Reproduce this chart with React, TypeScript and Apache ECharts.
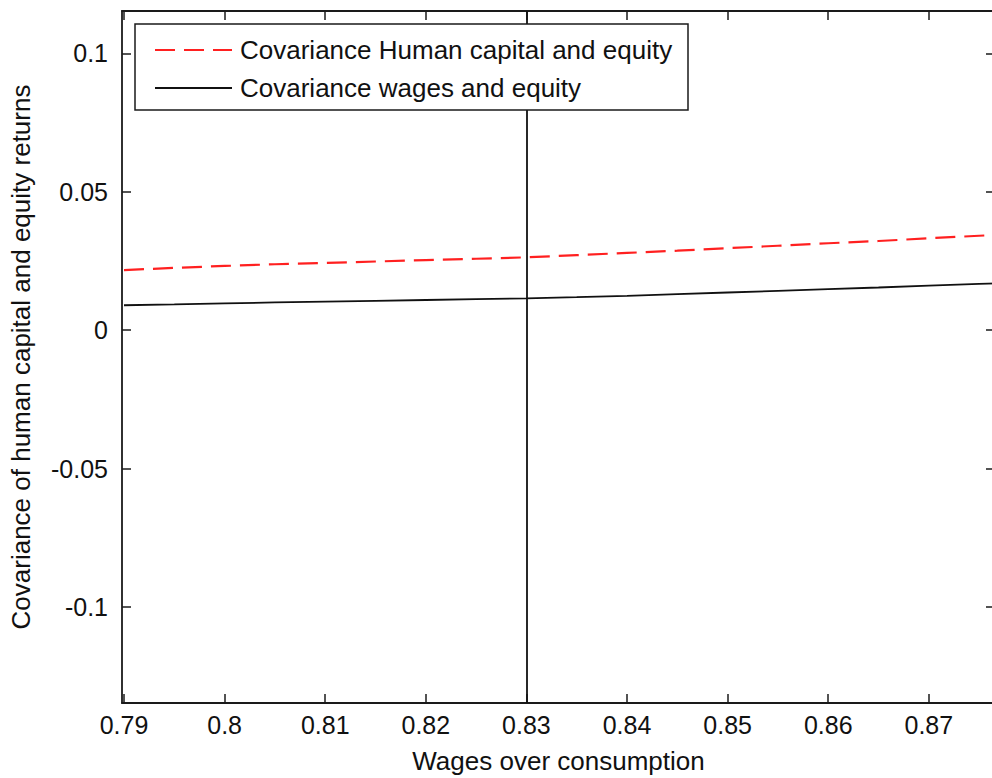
import React, { useEffect, useRef } from "react";
import * as echarts from "echarts";

const xValues = [0.79, 0.795, 0.8, 0.805, 0.81, 0.815, 0.82, 0.825, 0.83, 0.835, 0.84, 0.845, 0.85, 0.855, 0.86, 0.865, 0.87, 0.875, 0.88];
const humanCapitalCov = [0.0217, 0.0225, 0.0232, 0.0238, 0.0243, 0.0248, 0.0253, 0.0258, 0.0263, 0.0271, 0.0279, 0.0287, 0.0296, 0.0305, 0.0314, 0.0322, 0.0332, 0.0341, 0.035];
const wagesCov = [0.009, 0.0093, 0.0097, 0.01, 0.0103, 0.0106, 0.0109, 0.0112, 0.0115, 0.0119, 0.0124, 0.013, 0.0136, 0.0142, 0.0148, 0.0154, 0.0161, 0.0167, 0.0173];
const xTicks = [0.79, 0.8, 0.81, 0.82, 0.83, 0.84, 0.85, 0.86, 0.87];
const yTicks = [-0.1, -0.05, 0, 0.05, 0.1];
const markerX = 0.83;
const seriesNames = ["Covariance Human capital and equity", "Covariance wages and equity"];
const seriesColors = ["#ff2020", "#111111"];
const xTitle = "Wages over consumption";
const yTitle = "Covariance of human capital and equity returns";

const FONT = "'Liberation Sans', Arial, sans-serif";
const fmt = (v: number) => String(parseFloat(v.toFixed(4)));

export default function App() {
  const ref = useRef<HTMLDivElement>(null);
  useEffect(() => {
    document.documentElement.style.overflow = "hidden";
    document.body.style.overflow = "hidden";
    document.body.style.margin = "0";
    const chart = echarts.init(ref.current!, null, { renderer: "svg" });
    const xMin = 0.7898;
    const xMax = 0.87658;
    const yMin = -0.1347;
    const yMax = 0.1153;
    const axisLine = { show: true, onZero: false, lineStyle: { color: "#1a1a1a", width: 1.8 } };
    const tick = (vals: number[]) => ({ show: true, inside: true, length: 9, customValues: vals, lineStyle: { color: "#1a1a1a", width: 1.5 } });
    const legendLeft = 135;
    const legendTop = 24;
    const rowY = [50, 88];
    const LZ = 100;
    chart.setOption({
      animation: false,
      backgroundColor: "#ffffff",
      textStyle: { fontFamily: FONT },
      grid: { left: 122, top: 11, width: 873, height: 692, containLabel: false, outerBoundsMode: "none", show: false },
      legend: { show: false, data: seriesNames },
      xAxis: [
        {
          type: "value",
          min: xMin,
          max: xMax,
          position: "bottom",
          axisLine,
          axisTick: tick(xTicks),
          splitLine: { show: false },
          axisLabel: { show: true, customValues: xTicks, formatter: fmt, fontFamily: FONT, fontSize: 25, color: "#111", margin: 9 },
          name: xTitle,
          nameLocation: "middle",
          nameGap: 45,
          nameTextStyle: { fontFamily: FONT, fontSize: 26, color: "#111" },
        },
        {
          type: "value",
          min: xMin,
          max: xMax,
          position: "top",
          axisLine,
          axisTick: tick(xTicks),
          splitLine: { show: false },
          axisLabel: { show: false },
        },
      ],
      yAxis: [
        {
          type: "value",
          min: yMin,
          max: yMax,
          position: "left",
          axisLine,
          axisTick: tick(yTicks),
          splitLine: { show: false },
          axisLabel: { show: true, customValues: yTicks, formatter: fmt, fontFamily: FONT, fontSize: 25, color: "#111", margin: 14 },
          name: yTitle,
          nameLocation: "middle",
          nameGap: 88,
          nameRotate: 90,
          nameTextStyle: { fontFamily: FONT, fontSize: 26, color: "#111" },
        },
        {
          type: "value",
          min: yMin,
          max: yMax,
          position: "right",
          axisLine,
          axisTick: tick(yTicks),
          splitLine: { show: false },
          axisLabel: { show: false },
        },
      ],
      graphic: [
        {
          type: "rect",
          z: LZ,
          zlevel: 0,
          shape: { x: legendLeft, y: legendTop, width: 553, height: 86 },
          style: { fill: "#ffffff", stroke: "#1a1a1a", lineWidth: 1.5 },
        },
        {
          type: "line",
          z: LZ + 1,
          shape: { x1: 155, y1: rowY[0], x2: 232, y2: rowY[0] },
          style: { stroke: seriesColors[0], lineWidth: 2.2, lineDash: [20, 9] },
        },
        {
          type: "line",
          z: LZ + 1,
          shape: { x1: 155, y1: rowY[1], x2: 232, y2: rowY[1] },
          style: { stroke: seriesColors[1], lineWidth: 1.8 },
        },
        {
          type: "text",
          z: LZ + 1,
          x: 240,
          y: rowY[0],
          style: { text: seriesNames[0], font: `26px ${FONT}`, fill: "#111", verticalAlign: "middle", align: "left" },
        },
        {
          type: "text",
          z: LZ + 1,
          x: 240,
          y: rowY[1],
          style: { text: seriesNames[1], font: `26px ${FONT}`, fill: "#111", verticalAlign: "middle", align: "left" },
        },
      ],
      series: [
        {
          name: seriesNames[0],
          type: "line",
          xAxisIndex: 0,
          yAxisIndex: 0,
          symbol: "none",
          data: xValues.map((x, i) => [x, humanCapitalCov[i]]),
          lineStyle: { color: seriesColors[0], width: 2.2, type: [20, 9] },
          itemStyle: { color: seriesColors[0] },
          z: 3,
        },
        {
          name: seriesNames[1],
          type: "line",
          xAxisIndex: 0,
          yAxisIndex: 0,
          symbol: "none",
          data: xValues.map((x, i) => [x, wagesCov[i]]),
          lineStyle: { color: seriesColors[1], width: 1.8 },
          itemStyle: { color: seriesColors[1] },
          z: 3,
          markLine: {
            silent: true,
            symbol: ["none", "none"],
            label: { show: false },
            lineStyle: { color: "#111111", width: 1.8, type: "solid" },
            data: [{ xAxis: markerX }],
          },
        },
      ],
    });
    return () => chart.dispose();
  }, []);
  return <div ref={ref} style={{ position: "fixed", left: 0, top: 0, width: 1000, height: 778 }} />;
}
